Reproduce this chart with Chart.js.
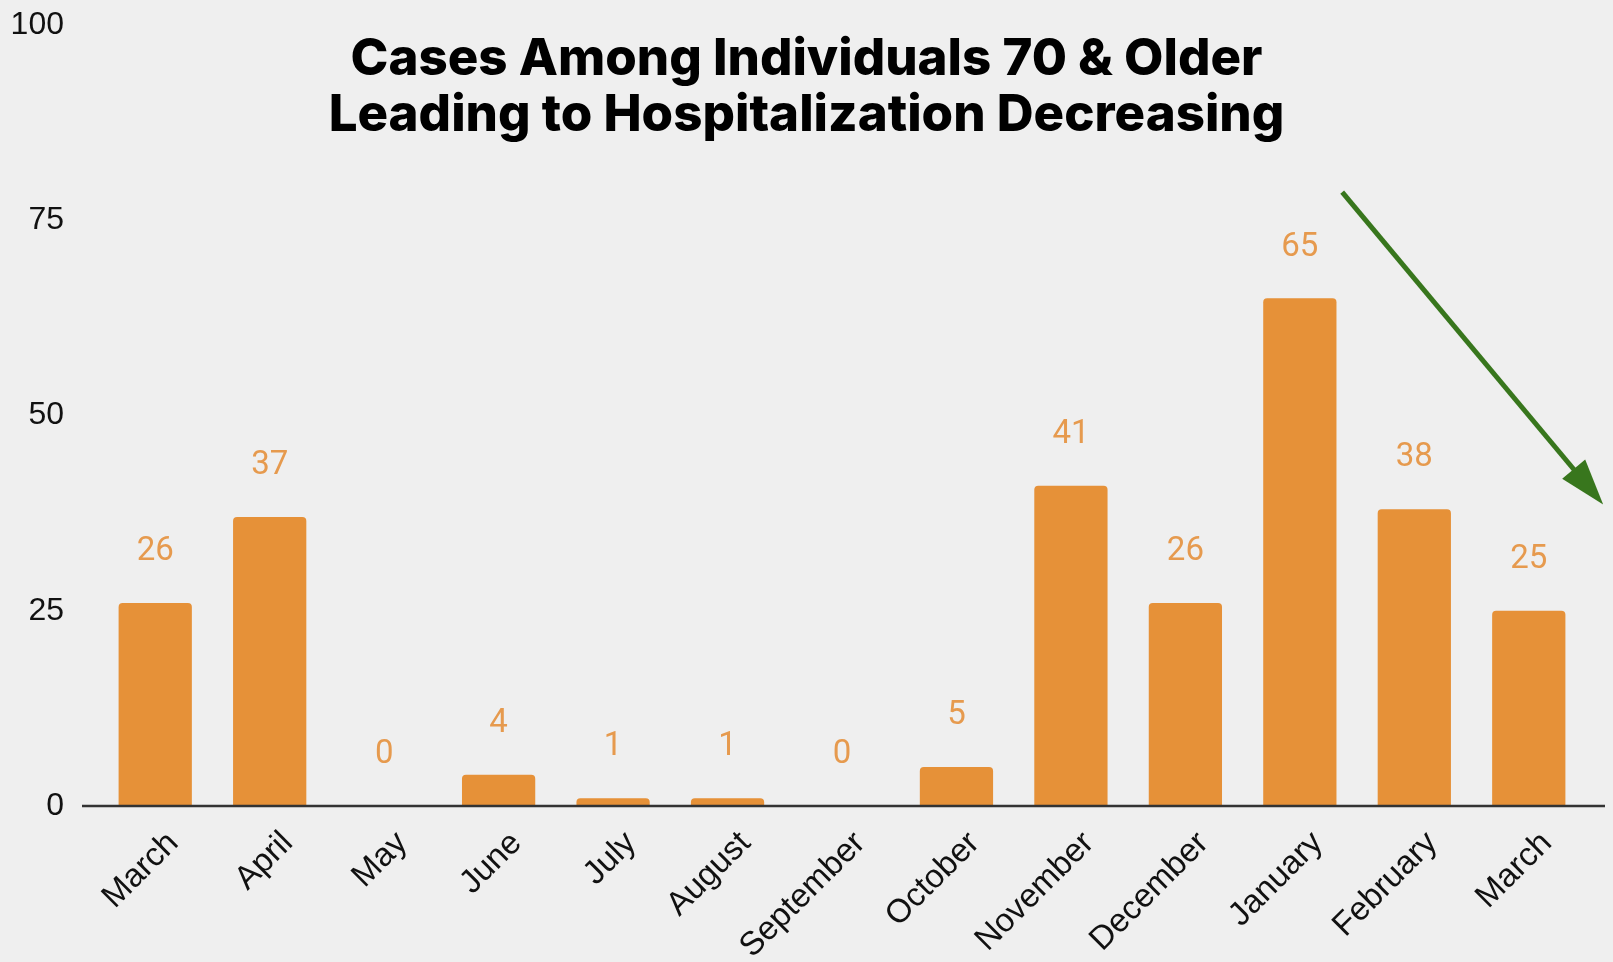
<!DOCTYPE html>
<html>
<head>
<meta charset="utf-8">
<script src="https://cdn.jsdelivr.net/npm/chart.js@4.4.0/dist/chart.umd.min.js"></script>
<style>
  html, body { margin: 0; padding: 0; background: #efefef; }
  #wrap { position: relative; width: 1613px; height: 962px; }
</style>
</head>
<body>
<div id="wrap"><canvas id="chart"></canvas></div>
<script>
const months = ["March", "April", "May", "June", "July", "August", "September",
  "October", "November", "December", "January", "February", "March"];
const cases = [26, 37, 0, 4, 1, 1, 0, 5, 41, 26, 65, 38, 25];
const yTicks = [0, 25, 50, 75, 100];
const titleLines = ["Cases Among Individuals 70 & Older", "Leading to Hospitalization Decreasing"];
// trend arrow, in data units (category index, value)
const trendFrom = { x: 10.37, y: 78.6 };
const trendTo = { x: 12.65, y: 38.6 };

const barColor = '#E69138';
const labelColor = '#E69A4E';
const arrowColor = '#38761D';

// numbers above the bars
const valueLabels = {
  id: 'valueLabels',
  afterDatasetsDraw(chart) {
    const ctx = chart.ctx;
    const meta = chart.getDatasetMeta(0);
    ctx.save();
    ctx.font = '33px Roboto';
    ctx.fillStyle = labelColor;
    ctx.textAlign = 'center';
    ctx.textBaseline = 'middle';
    meta.data.forEach((bar, i) => {
      ctx.fillText(String(cases[i]), bar.x, bar.y - 51);
    });
    ctx.restore();
  }
};

// baseline at zero, runs a bit past the plot on both sides
const baseLine = {
  id: 'baseLine',
  afterDatasetsDraw(chart) {
    const { ctx, chartArea, scales } = chart;
    const y = scales.y.getPixelForValue(0);
    ctx.save();
    ctx.strokeStyle = '#333333';
    ctx.lineWidth = 2.5;
    ctx.beginPath();
    ctx.moveTo(chartArea.left - 16, y);
    ctx.lineTo(chartArea.right + 19, y);
    ctx.stroke();
    ctx.restore();
  }
};

const trendArrow = {
  id: 'trendArrow',
  afterDraw(chart) {
    const { ctx, scales } = chart;
    const x1 = scales.x.getPixelForValue(trendFrom.x);
    const y1 = scales.y.getPixelForValue(trendFrom.y);
    const x2 = scales.x.getPixelForValue(trendTo.x);
    const y2 = scales.y.getPixelForValue(trendTo.y);
    const ang = Math.atan2(y2 - y1, x2 - x1);
    const headLen = 46, headHalf = 15;
    const bx = x2 - headLen * Math.cos(ang);
    const by = y2 - headLen * Math.sin(ang);
    ctx.save();
    ctx.strokeStyle = arrowColor;
    ctx.fillStyle = arrowColor;
    ctx.lineWidth = 5;
    ctx.beginPath();
    ctx.moveTo(x1, y1);
    ctx.lineTo(bx + 2 * Math.cos(ang), by + 2 * Math.sin(ang));
    ctx.stroke();
    ctx.beginPath();
    ctx.moveTo(x2, y2);
    ctx.lineTo(bx + headHalf * Math.sin(ang), by - headHalf * Math.cos(ang));
    ctx.lineTo(bx - headHalf * Math.sin(ang), by + headHalf * Math.cos(ang));
    ctx.closePath();
    ctx.fill();
    ctx.restore();
  }
};

const ctx = document.getElementById('chart').getContext('2d');
new Chart(ctx, {
  type: 'bar',
  data: {
    labels: months,
    datasets: [{
      label: 'Cases',
      data: cases,
      backgroundColor: barColor,
      borderRadius: { topLeft: 4, topRight: 4 },
      borderSkipped: 'bottom',
      categoryPercentage: 1,
      barPercentage: 0.64,
    }]
  },
  options: {
    responsive: true,
    maintainAspectRatio: false,
    animation: false,
    layout: { padding: 0 },
    plugins: {
      legend: { display: false },
      tooltip: { enabled: false },
      title: {
        display: true,
        text: titleLines,
        color: '#000000',
        font: { family: 'Inter', size: 51, weight: 800, lineHeight: '56px' },
        padding: { top: 7, bottom: -119 },
      },
    },
    scales: {
      x: {
        grid: { display: false },
        border: { display: false },
        ticks: {
          autoSkip: false,
          maxRotation: 45,
          minRotation: 45,
          padding: 10,
          labelOffset: 18,
          color: '#111111',
          font: { family: 'Liberation Sans', size: 33 },
        },
        afterFit(scale) { scale.height = 156; },
      },
      y: {
        min: 0,
        max: 100,
        afterBuildTicks(scale) { scale.ticks = yTicks.map(v => ({ value: v })); },
        grid: { display: false },
        border: { display: false },
        ticks: {
          padding: 26,
          color: '#111111',
          font: { family: 'Liberation Sans', size: 32 },
        },
        afterFit(scale) {
          scale.width = 98;
          scale.paddingTop = 25;
        },
      },
      // empty right-hand axis, only holds space so the plot ends where the original does
      yRight: {
        position: 'right',
        grid: { display: false },
        border: { display: false },
        ticks: { display: false },
        afterFit(scale) { scale.width = 27; },
      },
    },
  },
  plugins: [valueLabels, baseLine, trendArrow],
});
</script>
</body>
</html>
